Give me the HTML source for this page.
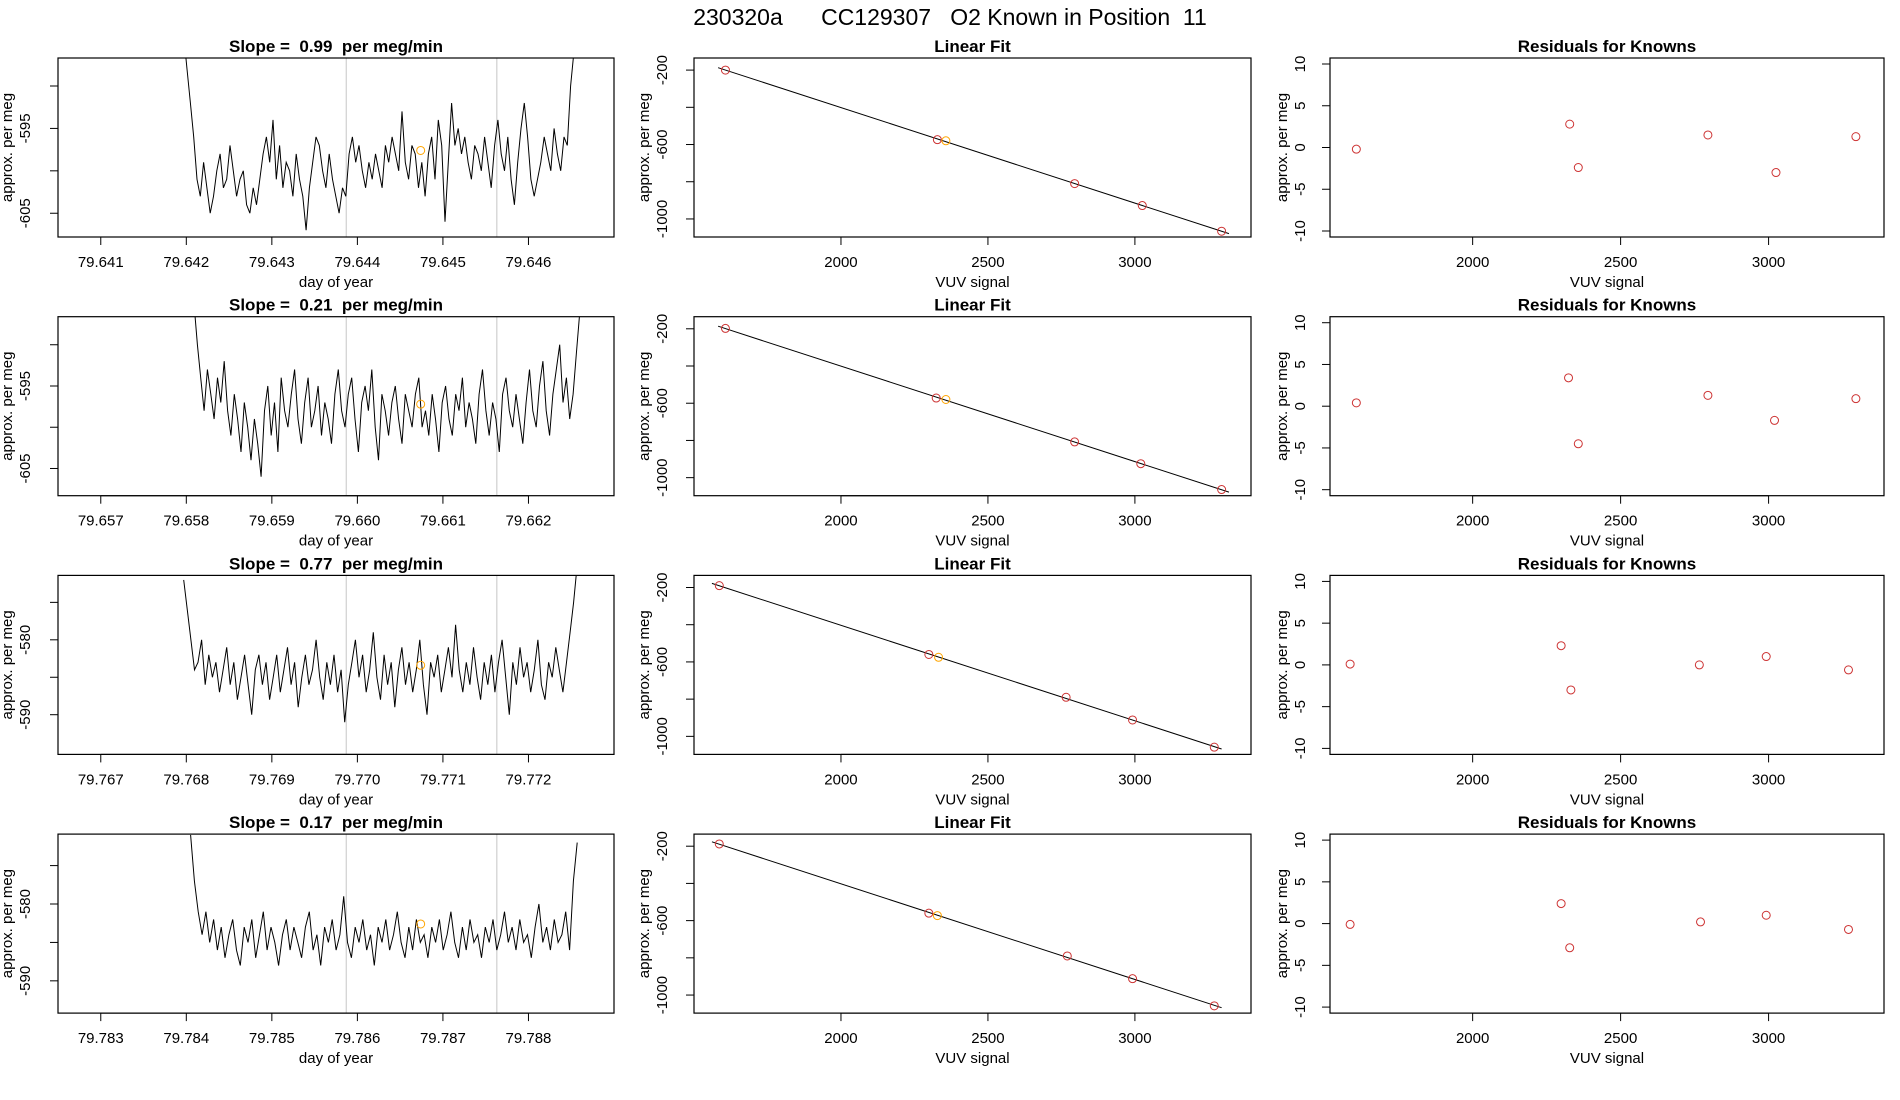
<!DOCTYPE html>
<html><head><meta charset="utf-8"><style>
html,body{margin:0;padding:0;background:#fff}
svg{display:block;font-family:"Liberation Sans",sans-serif}
svg text{white-space:pre}
</style></head><body>
<svg id="chart" width="1900" height="1100" viewBox="0 0 1900 1100" xmlns="http://www.w3.org/2000/svg" xml:space="preserve">
<text x="950" y="25" text-anchor="middle" font-size="23">230320a      CC129307   O2 Known in Position  11</text>
</svg>
<script>
// ---------- data ----------
const slopeLabels = ["0.99", "0.21", "0.77", "0.17"];
const timeBases = [79.641, 79.657, 79.767, 79.783];
const timeStartOffsets = [0.00097, 0.00109, 0.00097, 0.00105];
const timeEndOffsets = [0.00557, 0.00560, 0.00557, 0.00557];
const grayLineOffsets = [0.00287, 0.00463];
const orangeTimeOffset = 0.00374;
const orangeValues = [-597.6, -597.2, -583.4, -582.6];
const yTicksSeries = [[-590,-595,-600,-605],[-590,-595,-600,-605],[-575,-580,-585,-590],[-575,-580,-585,-590]];
const yTickLabelsSeries = [["-595","-605"],["-595","-605"],["-580","-590"],["-580","-590"]];
const yRangeSeries = [[-607.8,-586.7],[-608.3,-586.6],[-595.3,-571.4],[-594.2,-570.9]];

const series1 = [-584,-588,-592,-596,-601,-603,-599,-602,-605,-603,-600,-598,-602,-601,-597,-600,-603,-601,-600,-604,-605,-602,-604,-601,-598,-596,-599,-594,-601,-597,-602,-599,-600,-603,-598,-601,-603,-607,-602,-599,-596,-597,-600,-602,-598,-601,-603,-605,-602,-603,-598,-596,-599,-597,-600,-602,-599,-601,-598,-600,-602,-597,-599,-596,-598,-600,-593,-599,-601,-597,-598,-602,-599,-603,-598,-596,-601,-594,-597,-606,-599,-592,-597,-595,-598,-596,-599,-601,-597,-598,-600,-596,-599,-602,-597,-594,-598,-600,-596,-601,-604,-599,-595,-592,-596,-601,-603,-601,-599,-596,-598,-600,-595,-598,-600,-596,-597,-590,-586,-582];
const series2 = [-585,-590,-594,-598,-593,-596,-599,-594,-597,-592,-598,-601,-596,-599,-603,-597,-600,-604,-599,-602,-606,-598,-595,-601,-597,-603,-594,-598,-600,-596,-593,-599,-602,-597,-594,-600,-598,-595,-601,-597,-599,-602,-596,-593,-598,-600,-596,-594,-599,-603,-597,-595,-598,-593,-600,-604,-596,-598,-601,-597,-595,-599,-602,-596,-598,-600,-596,-594,-600,-598,-601,-596,-599,-603,-597,-595,-599,-601,-596,-598,-594,-600,-597,-599,-602,-596,-593,-598,-601,-597,-599,-603,-596,-594,-598,-600,-596,-599,-602,-597,-593,-598,-600,-595,-592,-598,-601,-596,-593,-590,-597,-594,-599,-596,-591,-586];
const series3 = [-572,-576,-580,-584,-583,-580,-586,-582,-585,-583,-587,-584,-581,-586,-583,-588,-585,-582,-586,-590,-584,-582,-586,-583,-588,-585,-582,-587,-584,-581,-586,-583,-589,-585,-582,-586,-584,-580,-585,-588,-583,-586,-582,-587,-584,-591,-586,-583,-580,-585,-582,-587,-584,-579,-585,-588,-582,-586,-583,-589,-584,-581,-586,-583,-587,-584,-580,-586,-590,-583,-585,-582,-587,-584,-581,-585,-578,-584,-587,-583,-586,-581,-585,-588,-583,-586,-582,-587,-583,-580,-585,-590,-583,-586,-581,-585,-583,-587,-584,-580,-586,-588,-583,-585,-581,-584,-587,-583,-579,-575,-570];
const series4 = [-571,-577,-581,-584,-581,-585,-582,-586,-583,-587,-584,-582,-586,-588,-583,-585,-582,-587,-584,-581,-586,-583,-585,-588,-584,-582,-586,-583,-585,-587,-583,-581,-586,-584,-588,-583,-585,-582,-586,-584,-579,-585,-587,-583,-585,-582,-586,-584,-588,-583,-585,-582,-586,-584,-581,-585,-587,-583,-586,-582,-585,-584,-587,-583,-585,-582,-586,-584,-581,-585,-587,-583,-586,-582,-585,-584,-587,-583,-585,-582,-586,-584,-581,-585,-583,-586,-582,-585,-584,-587,-583,-580,-585,-583,-586,-582,-585,-584,-581,-586,-577,-572];
const allSeries = [series1, series2, series3, series4];

const fitX1 = [1607, 2328, 2357, 2795, 3025, 3295];
const fitY1 = [-200, -574, -580, -810, -928, -1066];
const fitX2 = [1607, 2324, 2357, 2795, 3020, 3295];
const fitY2 = [-198, -572, -580, -808, -925, -1064];
const fitX3 = [1586, 2299, 2332, 2766, 2992, 3270];
const fitY3 = [-190, -560, -575, -790, -912, -1058];
const fitX4 = [1586, 2299, 2328, 2770, 2992, 3270];
const fitY4 = [-188, -560, -573, -790, -912, -1058];
const fitXs = [fitX1, fitX2, fitX3, fitX4];
const fitYs = [fitY1, fitY2, fitY3, fitY4];
const orangeIndex = 2;

const resY1 = [-0.2, 2.8, -2.4, 1.5, -3.0, 1.3];
const resY2 = [0.4, 3.4, -4.5, 1.3, -1.7, 0.9];
const resY3 = [0.1, 2.3, -3.0, 0.0, 1.0, -0.6];
const resY4 = [-0.1, 2.4, -2.9, 0.2, 1.0, -0.7];
const resYs = [resY1, resY2, resY3, resY4];

const vuvTicks = [2000, 2500, 3000];
const fitYTicks = [-200, -400, -600, -800, -1000];
const fitYTickLabels = [-200, -600, -1000];
const resTicks = [-10, -5, 0, 5, 10];

// ---------- layout ----------
const NS = "http://www.w3.org/2000/svg";
const svg = document.getElementById('chart');
const cols = [[58, 614], [694, 1251], [1330, 1884]];
const rowH = 179;
function rowTop(r){ return 58 + r * 258.7; }

function mk(tag, attrs, parent){
  const e = document.createElementNS(NS, tag);
  for (const k in attrs) e.setAttribute(k, attrs[k]);
  (parent || svg).appendChild(e);
  return e;
}
function txt(s, x, y, size, opts, parent){
  const e = mk('text', {x:x, y:y, 'font-size':size, 'text-anchor':'middle'}, parent);
  if (opts && opts.bold) e.setAttribute('font-weight', 'bold');
  if (opts && opts.rot) e.setAttribute('transform', 'rotate(-90 ' + x + ' ' + y + ')');
  e.textContent = s;
  return e;
}
function lin(d0, d1, r0, r1){ return v => r0 + (v - d0) / (d1 - d0) * (r1 - r0); }

let clipId = 0;
function panel(r, c, name){
  const g = mk('g', {});
  
  
  const x0 = cols[c][0], x1 = cols[c][1], y0 = rowTop(r), y1 = y0 + rowH;
  const id = 'clip' + (clipId++);
  const cp = mk('clipPath', {id: id}, g);
  mk('rect', {x:x0, y:y0, width:x1-x0, height:rowH}, cp);
  return {g, x0, x1, y0, y1, clip: 'url(#' + id + ')'};
}
function frame(p){
  const b = mk('rect', {x:p.x0, y:p.y0, width:p.x1-p.x0, height:rowH, fill:'none', stroke:'#000', 'stroke-width':1.2}, p.g);
  
  
}
function xAxis(p, sx, ticks, labels, title){
  const g = mk('g', {}, p.g);
  
  
  mk('line', {x1:sx(ticks[0]), x2:sx(ticks[ticks.length-1]), y1:p.y1, y2:p.y1, stroke:'#000'}, g);
  ticks.forEach((t, i) => {
    mk('line', {x1:sx(t), x2:sx(t), y1:p.y1, y2:p.y1+8, stroke:'#000'}, g);
    txt(labels[i], sx(t), p.y1 + 30, 15, null, g);
  });
  const tt = txt(title, (p.x0+p.x1)/2, p.y1 + 50, 15, null, g);
  
  
}
function yAxis(p, sy, ticks, labelVals, labels, off, titleOff){
  const g = mk('g', {}, p.g);
  
  
  const ys = ticks.map(sy);
  mk('line', {x1:p.x0, x2:p.x0, y1:Math.min(...ys), y2:Math.max(...ys), stroke:'#000'}, g);
  ticks.forEach(t => mk('line', {x1:p.x0-8, x2:p.x0, y1:sy(t), y2:sy(t), stroke:'#000'}, g));
  labelVals.forEach((v, i) => txt(labels[i], p.x0 - off, sy(v), 15, {rot:true}, g));
  const tt = txt('approx. per meg', p.x0 - titleOff, (p.y0+p.y1)/2, 15, {rot:true}, g);
  
  
}
function title(p, s){
  const t = txt(s, (p.x0+p.x1)/2, p.y0 - 6, 17, {bold:true}, p.g);
  
  
}

for (let r = 0; r < 4; r++){
  {
    const p = panel(r, 0, 'timeseries-panel-' + (r+1));
    const base = timeBases[r];
    const sx = lin(base - 0.0005, base + 0.006, p.x0, p.x1);
    const yr = yRangeSeries[r];
    const sy = lin(yr[0], yr[1], p.y1, p.y0);
    grayLineOffsets.forEach(o => {
      const l = mk('line', {x1:sx(base+o), x2:sx(base+o), y1:p.y0, y2:p.y1, stroke:'#cfcfcf', 'stroke-width':1.2}, p.g);
      
      
    });
    const vals = allSeries[r];
    const t0 = base + timeStartOffsets[r], t1 = base + timeEndOffsets[r];
    const pts = vals.map((v, i) => sx(t0 + (t1 - t0) * i / (vals.length - 1)).toFixed(1) + ',' + sy(v).toFixed(1)).join(' ');
    const pl = mk('polyline', {points:pts, fill:'none', stroke:'#000', 'stroke-width':1, 'clip-path':p.clip}, p.g);
    
    
    const oc = mk('circle', {cx:sx(base+orangeTimeOffset), cy:sy(orangeValues[r]), r:4, fill:'none', stroke:'#FFA500', 'stroke-width':1}, p.g);
    
    
    frame(p);
    const ticks = [0,1,2,3,4,5].map(k => base + k * 0.001);
    xAxis(p, sx, ticks, ticks.map(t => t.toFixed(3)), 'day of year');
    const yl = yTickLabelsSeries[r].map(Number);
    yAxis(p, sy, yTicksSeries[r], yl, yTickLabelsSeries[r], 28, 46);
    title(p, 'Slope =  ' + slopeLabels[r] + '  per meg/min');
  }
  {
    const p = panel(r, 1, 'linear-fit-panel-' + (r+1));
    const sx = lin(1500, 3395, p.x0, p.x1);
    const sy = lin(-1097, -135, p.y1, p.y0);
    const xs = fitXs[r], ys = fitYs[r];
    const n = xs.length;
    const mx = xs.reduce((a,b)=>a+b,0)/n, my = ys.reduce((a,b)=>a+b,0)/n;
    let sxy = 0, sxx = 0;
    for (let i = 0; i < n; i++){ sxy += (xs[i]-mx)*(ys[i]-my); sxx += (xs[i]-mx)**2; }
    const b = sxy/sxx, a = my - b*mx;
    const xa = Math.min(...xs) - 25, xb = Math.max(...xs) + 25;
    const fl = mk('line', {x1:sx(xa), y1:sy(a+b*xa), x2:sx(xb), y2:sy(a+b*xb), stroke:'#000', 'stroke-width':1}, p.g);
    
    
    xs.forEach((x, i) => {
      const c = mk('circle', {cx:sx(x), cy:sy(ys[i]), r:4, fill:'none', stroke: i === orangeIndex ? '#FFA500' : '#CD3333', 'stroke-width':1}, p.g);
      
      
    });
    frame(p);
    xAxis(p, sx, vuvTicks, vuvTicks.map(String), 'VUV signal');
    yAxis(p, sy, fitYTicks, fitYTickLabels, fitYTickLabels.map(String), 27, 45);
    title(p, 'Linear Fit');
  }
  {
    const p = panel(r, 2, 'residuals-panel-' + (r+1));
    const sx = lin(1518, 3390, p.x0, p.x1);
    const sy = lin(-10.72, 10.72, p.y1, p.y0);
    const xs = fitXs[r], ys = resYs[r];
    xs.forEach((x, i) => {
      const c = mk('circle', {cx:sx(x), cy:sy(ys[i]), r:4, fill:'none', stroke:'#CD3333', 'stroke-width':1}, p.g);
      
      
    });
    frame(p);
    xAxis(p, sx, vuvTicks, vuvTicks.map(String), 'VUV signal');
    yAxis(p, sy, resTicks, resTicks, resTicks.map(String), 25, 43);
    title(p, 'Residuals for Knowns');
  }
}
</script>
</body></html>
